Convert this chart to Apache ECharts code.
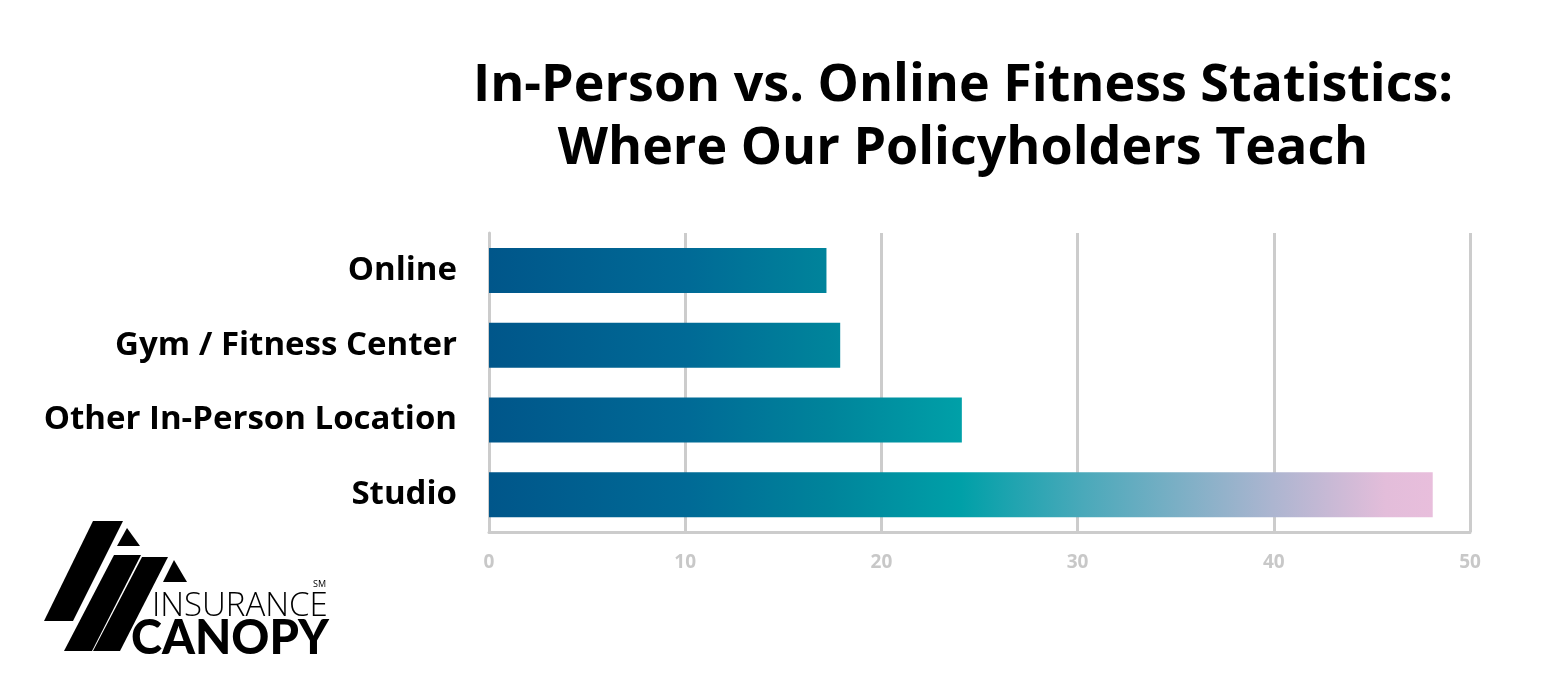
<!DOCTYPE html>
<html>
<head>
<meta charset="utf-8">
<script src="https://cdn.jsdelivr.net/npm/echarts@6/dist/echarts.min.js"></script>
<style>
  html, body { margin: 0; padding: 0; background: #fff; }
  #main { width: 1550px; height: 691px; }
</style>
</head>
<body>
<div id="main"></div>
<script>
  // data
  const categories = ['Online', 'Gym / Fitness Center', 'Other In-Person Location', 'Studio'];
  const values = [17.2, 17.9, 24.1, 48.1];
  const xTicks = [0, 10, 20, 30, 40, 50];

  const FONT = '"Open Sans", "Noto Sans", sans-serif';
  const chart = echarts.init(document.getElementById('main'));

  // logo shapes (Insurance Canopy), drawn as graphics
  const logo = [
    { type: 'polygon', shape: { points: [[93, 521], [123, 521], [73, 621], [44, 621]] }, style: { fill: '#000' } },
    { type: 'polygon', shape: { points: [[114, 555], [141, 555], [92, 651], [64, 651]] }, style: { fill: '#000' } },
    { type: 'polygon', shape: { points: [[142, 557], [168, 557], [120, 651], [93, 651]] }, style: { fill: '#000' } },
    { type: 'polygon', shape: { points: [[127, 528], [140, 546], [117, 546]] }, style: { fill: '#000' } },
    { type: 'polygon', shape: { points: [[174, 560], [187, 582], [163, 582]] }, style: { fill: '#000' } },
    { type: 'text', left: 152, top: 590, style: { text: 'INSURANCE', font: '300 33px "Open Sans", sans-serif', fill: '#000' } },
    { type: 'text', left: 131, top: 615, style: { text: 'CANOPY', font: '900 47px Lato, "Open Sans", sans-serif', fill: '#000' } },
    { type: 'text', left: 313, top: 580, style: { text: 'SM', font: '9px "Open Sans", sans-serif', fill: '#000' } }
  ];

  chart.setOption({
    backgroundColor: '#fff',
    animation: false,
    title: {
      text: 'In-Person vs. Online Fitness Statistics:\nWhere Our Policyholders Teach',
      left: 958,
      top: 50,
      textAlign: 'center',
      textStyle: { fontFamily: FONT, fontSize: 52, fontWeight: 'bold', color: '#000', lineHeight: 63 }
    },
    grid: { left: 489, right: 80, top: 233, bottom: 159 },
    xAxis: {
      type: 'value',
      min: xTicks[0],
      max: xTicks[xTicks.length - 1],
      interval: 10,
      axisLine: { show: true, lineStyle: { color: '#cccccc', width: 3 } },
      axisTick: { show: false },
      splitLine: { show: true, lineStyle: { color: '#cccccc', width: 3 } },
      axisLabel: { margin: 21, color: '#c8c8c8', fontFamily: FONT, fontSize: 19, fontWeight: 'bold' }
    },
    yAxis: {
      type: 'category',
      inverse: true,
      data: categories,
      axisLine: { show: true, lineStyle: { color: '#cccccc', width: 3 } },
      axisTick: { show: false },
      axisLabel: { margin: 32, color: '#000', fontFamily: FONT, fontSize: 33, fontWeight: 'bold' }
    },
    series: [{
      type: 'bar',
      data: values,
      barWidth: 45,
      itemStyle: { color: '#005a8c' }
    }],
    graphic: logo
  });

  // one gradient across the whole plot, so short bars only reach the teal part
  const x0 = chart.convertToPixel({ xAxisIndex: 0 }, 0);
  const x1 = chart.convertToPixel({ xAxisIndex: 0 }, values[3]);
  chart.setOption({
    series: [{
      itemStyle: {
        color: new echarts.graphic.LinearGradient(x0, 0, x1, 0, [
          { offset: 0, color: '#00568a' },
          { offset: 0.21, color: '#006a96' },
          { offset: 0.36, color: '#00849b' },
          { offset: 0.5, color: '#00a0a8' },
          { offset: 0.63, color: '#4aa9ba' },
          { offset: 0.83, color: '#acb5d0' },
          { offset: 0.95, color: '#e3bdda' },
          { offset: 1, color: '#e8bedc' }
        ], true)
      }
    }]
  });
</script>
</body>
</html>
